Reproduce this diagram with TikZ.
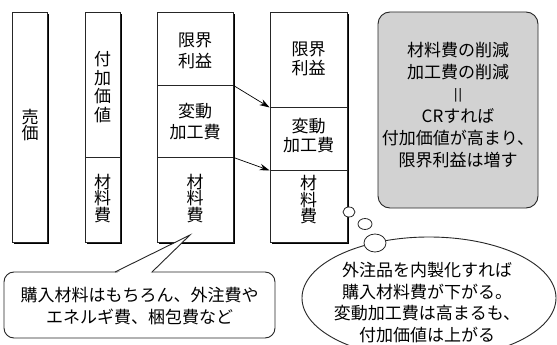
\documentclass[tikz,border=0pt]{standalone}
\usepackage{fontspec}
\usepackage{graphicx}
\newfontfamily\jp{Noto Sans CJK JP}
\usetikzlibrary{arrows.meta,shapes.geometric,shadows}
\begin{document}
\begin{tikzpicture}[x=1pt,y=-1pt,
  jt/.style={font=\jp\fontsize{17}{21.5}\selectfont, align=center, inner sep=0pt},
  vt/.style={font=\jp\fontsize{17}{16.5}\selectfont, align=center, inner sep=0pt},
  sec/.style={draw=black!85, line width=0.9pt, fill=white, inner sep=0pt,
    drop shadow={shadow xshift=2.2pt, shadow yshift=-2.2pt, opacity=1, fill=black}},
  arr/.style={-{Stealth[length=10pt,width=6.5pt]}, line width=0.7pt},
  bub/.style={draw=black!85, line width=0.8pt, fill=white, ellipse, inner sep=0pt}]
\clip (0,0) rectangle (557,345);
\fill[white] (0,0) rectangle (557,345);
% column 1
\node[sec, minimum width=35pt, minimum height=230pt] (c1) at (29.5,127) {};
\node[vt] (t1) at (30,125) {売\\価};
% column 2
\node[sec, minimum width=35pt, minimum height=145pt] (c2a) at (102.5,84.5) {};
\node[sec, minimum width=35pt, minimum height=85pt] (c2b) at (102.5,199.5) {};
\node[vt, font=\jp\fontsize{17}{18.5}\selectfont] (t2a) at (102.5,87) {付\\加\\価\\値};
\node[vt] (t2b) at (102.5,198.5) {材\\料\\費};
% column 3
\node[sec, minimum width=76pt, minimum height=73pt] (c3a) at (195,48.5) {};
\node[sec, minimum width=76pt, minimum height=72pt] (c3b) at (195,121) {};
\node[sec, minimum width=76pt, minimum height=85pt] (c3c) at (195,199.5) {};
\node[jt] (t3a) at (195,51) {限界\\利益};
\node[jt] (t3b) at (195,121.5) {変動\\加工費};
\node[vt] (t3c) at (195,198.5) {材\\料\\費};
% column 4
\node[sec, minimum width=77pt, minimum height=95pt] (c4a) at (308.5,59.5) {};
\node[sec, minimum width=77pt, minimum height=63pt] (c4b) at (308.5,138.5) {};
\node[sec, minimum width=77pt, minimum height=72pt] (c4c) at (308.5,206) {};
\node[jt, font=\jp\fontsize{17}{19}\selectfont] (t4a) at (308.5,59) {限界\\利益};
\node[jt, font=\jp\fontsize{17}{19}\selectfont] (t4b) at (308.5,136) {変動\\加工費};
\node[vt] (t4c) at (308.5,200) {材\\料\\費};
% arrows
\draw[arr] (c3a.south east) -- (c4a.south west);
\draw[arr] (c3b.south east) -- (c4b.south west);
% gray box
\node[draw=black!85, line width=0.9pt, fill=gray!35, rounded corners=12pt,
  minimum width=160pt, minimum height=196pt] (g) at (458,110) {};
\node[jt, font=\jp\fontsize{17}{22}\selectfont] (tg) at (458,105)
  {材料費の削減\\加工費の削減\\\scalebox{1.7}[0.8]{‖}\\CRすれば\\付加価値が高まり、\\限界利益は増す};
% callout bottom left
\node[draw=black!85, line width=0.9pt, fill=white, rounded corners=10pt,
  minimum width=271pt, minimum height=66pt] (cb) at (139.5,305) {};
\coordinate (p1) at (115,272);
\coordinate (p2) at (152,272);
\coordinate (pt) at (190,235);
\fill[white] (116.8,273) -- (pt) -- (150.3,273) -- cycle;
\draw[black!85, line width=0.9pt, line join=miter] (p1) -- (pt) -- (p2);
\node[jt, font=\jp\fontsize{17}{22}\selectfont] (tcb) at (139.5,306)
  {購入材料はもちろん、外注費や\\エネルギ費、梱包費など};
% thought bubble
\node[draw=black!85, line width=0.9pt, fill=white, ellipse, minimum width=254pt,
  minimum height=122pt, inner sep=0pt] (el) at (429,298) {};
\node[bub, minimum width=12pt, minimum height=10pt] (b1) at (349,212) {};
\node[bub, minimum width=14pt, minimum height=11pt] (b2) at (365,224) {};
\node[bub, minimum width=22pt, minimum height=18pt] (b3) at (375,243) {};
\node[jt] (tel) at (427,302.5)
  {外注品を内製化すれば\\購入材料費が下がる。\\変動加工費は高まるも、\\付加価値は上がる};
\end{tikzpicture}
\end{document}
